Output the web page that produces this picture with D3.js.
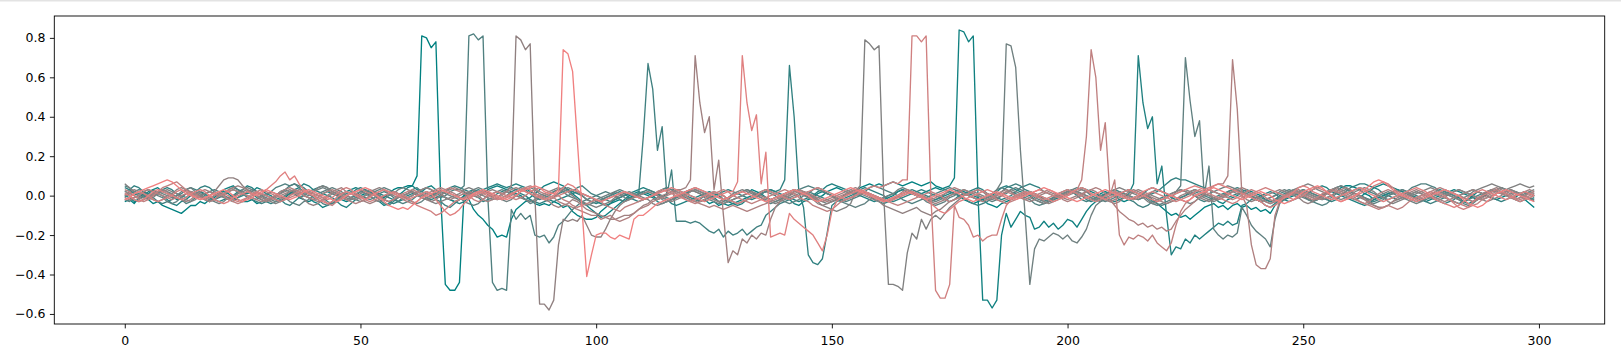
<!DOCTYPE html>
<html>
<head>
<meta charset="utf-8">
<script src="https://cdn.jsdelivr.net/npm/d3@7"></script>
<style>
html,body{margin:0;padding:0;background:#fff;}
svg{display:block;}
text{font-family:"DejaVu Sans",sans-serif;}
</style>
</head>
<body>
<svg id="chart" width="1621" height="360"></svg>
<script>
// x tick labels and y tick labels
const xTicks = [0, 50, 100, 150, 200, 250, 300];
const yTicks = [-0.6, -0.4, -0.2, 0, 0.2, 0.4, 0.6, 0.8];

// series values, index 0..299
const s00 = [
-.03,-.02,-.04,-.01,.01,-.02,-.04,-.03,-.05,-.06,
-.07,-.08,-.09,-.07,-.05,-.05,-.03,-.04,-.02,0,
.01,.02,.01,-.01,-.02,-.03,-.03,-.02,-.04,-.03,
-.02,-.01,0,.02,.03,.02,.01,-.01,-.02,-.03,
-.02,-.01,.01,.02,.01,0,-.02,-.03,-.02,-.01,
0,.01,.02,.01,0,-.01,.01,.03,.04,.04,
.05,.05,.1,.81,.8,.75,.78,0,-.45,-.48,
-.48,-.44,.02,-.02,-.07,-.1,-.12,-.15,-.17,-.21,
-.2,-.21,-.12,-.07,-.05,-.03,-.02,-.04,-.05,-.04,
-.05,-.03,-.04,-.06,-.05,-.08,-.1,-.11,-.12,-.12,
-.11,-.08,-.06,-.04,-.03,-.02,-.03,-.01,0,.01,
.02,.01,0,-.02,-.01,.01,.02,.03,.02,.01,
0,-.01,-.03,-.02,-.04,-.03,-.05,-.04,-.03,-.02,
-.01,0,.01,.03,.02,.01,-.01,-.02,-.01,0,
.01,.02,.03,.02,.01,-.01,-.02,-.01,0,.02,
.03,.04,.03,.02,.01,.02,.04,.05,.06,.05,
.06,.05,.06,.07,.06,.05,.06,.07,.06,.05,
.06,.07,.05,.04,.03,.02,.01,0,-.02,-.03,
-.04,-.03,-.02,-.04,-.05,-.06,-.04,-.03,-.02,-.01,
0,.01,.02,.01,0,-.02,-.03,-.02,-.01,0,
.01,.02,.01,0,-.01,-.02,-.01,.01,.02,.01,
0,-.02,-.03,-.02,-.01,0,.01,0,-.02,-.04,
-.06,-.08,-.1,-.09,-.11,-.1,-.12,-.1,-.08,-.06,
-.05,-.04,-.06,-.05,-.07,-.05,-.04,-.06,-.05,-.07,
-.06,-.08,-.07,-.09,-.05,-.03,-.02,-.01,0,.01,
.02,.01,0,-.01,-.02,-.01,0,.02,.04,.05,
.05,.04,.03,.01,0,-.02,-.01,0,.01,.02,
.01,0,-.01,-.02,-.03,-.02,-.01,0,.01,0,
-.01,-.02,-.03,-.04,-.03,-.02,0,.02,.01,0,
-.01,-.02,-.01,0,.01,.02,.01,-.02,-.04,-.06
];
const s01 = [
.02,.03,.01,0,-.01,.01,.03,.04,.02,.01,
0,-.02,-.01,.01,.02,.01,0,-.02,-.03,-.01,
.01,.03,.04,.05,.03,.02,.01,.02,.04,.03,
.01,0,-.02,-.03,-.01,.01,.02,.01,0,-.01,
-.03,-.04,-.06,-.05,-.03,-.01,.01,.02,.03,.04,
.03,.01,0,-.02,-.03,-.05,-.04,-.02,0,.02,
.04,.05,.03,.02,.04,.05,.03,.01,-.01,-.02,
-.03,-.02,0,.02,.03,.02,.01,.03,.04,.05,
.04,.03,.02,.01,0,-.02,-.01,.01,.03,.05,
.06,.07,.06,.05,.03,.01,-.01,-.03,-.05,-.07,
-.09,-.11,-.1,-.08,-.06,-.04,-.02,0,.01,.02,
.01,0,-.01,-.03,-.04,-.03,-.02,-.01,0,.01,
.02,.03,.02,.01,0,-.01,-.03,-.04,-.05,-.04,
-.03,-.02,-.01,0,.01,.02,.03,.02,.01,0,
-.01,-.02,-.04,-.05,-.03,-.02,-.01,.01,.02,.01,
0,-.02,-.03,-.02,-.01,0,.01,.02,.01,0,
-.01,-.02,-.01,0,.02,.03,.02,.01,0,.01,
.02,.03,.04,.03,.04,.05,.09,.84,.83,.78,
.81,0,-.53,-.53,-.57,-.53,-.2,-.09,-.16,-.12,
-.08,-.1,-.11,-.17,-.16,-.13,-.16,-.14,-.17,-.15,
-.12,-.13,-.16,-.12,-.08,-.05,-.03,-.02,0,.01,
.02,.01,0,-.01,-.02,-.01,.01,.03,.04,.03,
.02,.01,-.01,-.02,-.01,0,.02,.03,.02,.01,
0,-.01,-.03,-.04,-.02,-.01,0,.02,.03,.02,
.01,0,-.02,-.03,-.02,-.01,0,.01,.02,.01,
0,-.02,-.03,-.02,0,.02,.03,.02,.01,0,
-.01,-.02,-.01,.01,.02,.04,.05,.06,.05,.04,
.03,.02,.01,0,-.01,-.02,-.03,-.02,-.01,0,
.01,.02,.03,.02,.01,0,-.01,-.02,-.01,.01,
.02,.03,.02,.01,0,-.01,.01,.02,.01,0
];
const s02 = [
0,-.01,-.03,-.02,0,.02,.03,.01,0,-.02,
-.04,-.05,-.03,-.02,0,.01,.02,.01,-.01,-.02,
-.03,-.02,-.01,0,.02,.03,.05,.04,.02,.01,
0,-.01,-.02,-.01,0,.01,.03,.04,.06,.05,
.03,.02,.01,0,-.01,-.03,-.05,-.06,-.04,-.02,
-.01,0,.01,.02,.01,0,-.01,-.02,-.03,-.02,
-.01,0,.02,.03,.04,.03,.01,0,-.01,-.02,
-.03,-.04,-.03,-.01,.01,.02,.03,.04,.05,.06,
.05,.04,.05,.06,.05,.04,.02,.01,0,-.01,
-.02,-.03,-.02,-.01,0,.01,.02,.01,0,-.01,
-.03,-.04,-.05,-.04,-.02,-.01,0,.01,.02,.03,
.04,.03,.02,.01,-.01,-.02,-.04,-.05,-.04,-.03,
-.02,-.01,0,.01,.02,.01,0,-.02,-.03,-.04,
-.05,-.04,-.02,-.01,0,.01,.02,.03,.02,.01,
0,-.01,-.02,-.03,-.02,-.01,0,.02,.03,.05,
.06,.05,.04,.03,.02,.01,0,-.01,-.02,-.03,
-.02,-.01,0,.01,.02,.03,.02,.01,0,-.01,
-.02,-.03,-.02,-.01,0,.01,.02,.03,.02,.01,
0,-.01,-.02,-.01,0,.02,.04,.05,.04,.03,
.02,.01,0,-.02,-.03,-.04,-.03,-.02,-.01,0,
.01,.02,.03,.04,.03,.02,.01,0,-.01,-.02,
-.03,-.02,-.01,.01,.06,.71,.47,.34,.4,.06,
.15,-.1,-.3,-.26,-.27,-.22,-.24,-.2,-.22,-.2,
-.18,-.16,-.14,-.15,-.13,-.15,-.14,-.05,-.04,-.02,
-.01,0,.01,.02,.01,-.01,-.02,-.03,-.02,-.01,
0,.01,.03,.04,.05,.04,.02,.01,0,-.01,
-.02,-.03,-.04,-.05,-.04,-.02,-.01,0,.01,.02,
.03,.02,.01,0,-.01,-.02,-.01,0,.02,.03,
.02,.01,0,-.01,-.03,-.04,-.03,-.01,0,.01,
.02,.03,.04,.03,.02,.01,0,-.01,-.02,-.01
];
const s03 = [
.04,.03,.05,.04,.02,.01,0,.01,.03,.04,
.03,.01,0,-.01,.01,.02,.04,.05,.04,.02,
.01,0,-.02,-.03,-.01,0,.02,.01,-.01,-.02,
-.03,-.04,-.03,-.02,-.04,-.05,-.03,-.01,0,.02,
.03,.04,.05,.04,.02,.01,-.01,-.02,-.01,0,
.02,.03,.02,.01,0,-.02,-.03,-.04,-.03,-.01,
0,.01,.02,.01,-.01,-.02,-.01,0,.02,.04,
.05,.04,.03,.02,0,-.01,-.03,-.02,-.01,.01,
.02,.03,.04,.03,.01,0,-.02,-.03,-.04,-.03,
-.02,-.01,.01,.02,.03,.02,.01,0,-.02,-.03,
-.04,-.03,-.01,0,.01,.02,.01,-.01,-.02,-.03,
-.02,-.01,0,.02,.03,.04,.03,.02,.01,0,
-.01,-.02,-.03,-.02,-.01,0,.01,.02,.03,.02,
.01,0,-.01,-.02,-.01,.01,.02,.03,.02,.03,
.08,.66,.4,.02,-.06,-.3,-.34,-.35,-.32,-.19,
-.05,-.03,-.02,-.01,0,.01,.03,.04,.03,.02,
.01,0,-.02,-.03,-.02,-.01,0,.01,.02,.03,
.02,.01,0,-.01,-.02,-.03,-.02,0,.01,.02,
.03,.04,.03,.01,0,-.01,-.02,-.01,0,.02,
.04,.05,.06,.05,.04,.02,.01,0,-.01,0,
.01,.02,.01,0,-.02,-.03,-.02,-.01,.01,.02,
.03,.02,.01,0,-.01,-.02,-.01,0,.01,.02,
.04,.06,.08,.09,.08,.08,.07,.06,.05,.04,
.03,.02,.01,0,-.01,0,.01,.02,.01,0,
-.02,-.03,-.05,-.06,-.04,-.02,-.01,0,.01,.02,
.03,.02,.01,0,-.01,-.02,-.03,-.02,0,.02,
.04,.05,.06,.06,.05,.04,.03,.01,0,-.01,
-.02,-.01,0,.01,.02,.01,0,-.01,-.02,-.03,
-.04,-.03,-.02,0,.01,.02,.03,.02,.01,0,
-.01,-.02,-.03,-.02,-.01,0,.01,.02,.01,0
];
const s04 = [
-.01,.01,.02,.03,.02,0,-.01,-.03,-.04,-.03,
-.02,0,.01,.03,.04,.03,.02,0,-.01,-.02,
-.01,0,.02,.03,.02,.01,-.01,-.02,-.03,-.04,
-.03,-.02,0,.01,.03,.05,.06,.05,.04,.02,
.01,0,-.01,-.03,-.04,-.03,-.01,0,.01,.03,
.04,.03,.01,0,-.02,-.04,-.05,-.03,-.01,0,
.01,.03,.04,.02,.01,0,-.02,-.03,-.05,-.06,
-.04,-.02,-.01,0,.02,.03,.02,.01,-.01,-.02,
-.01,0,.02,.03,.04,.03,.01,-.01,-.02,-.01,
0,.02,.03,.04,.03,.02,.04,.05,.03,.01,
0,-.01,-.02,-.03,-.02,-.01,0,.01,0,0,
.3,.67,.54,.23,.35,0,.13,-.13,-.13,-.13,
-.14,-.13,-.14,-.16,-.18,-.19,-.17,-.21,-.18,-.2,
-.19,-.17,-.2,-.18,-.16,-.15,-.1,-.08,-.06,-.04,
-.03,-.02,-.01,0,.01,.02,.01,0,-.01,-.02,
-.03,-.02,-.01,.01,.02,.03,.02,.01,0,-.02,
-.03,-.04,-.03,-.02,0,.01,.02,.03,.02,.01,
0,-.01,-.02,-.01,.01,.02,.01,0,-.01,-.03,
-.04,-.05,-.04,-.03,-.01,0,.02,.04,.05,.06,
.05,.03,.02,.01,0,-.01,-.02,-.01,.01,.02,
.03,.02,0,-.02,-.03,-.02,-.01,0,.01,.02,
.01,0,-.01,-.02,-.03,-.05,-.06,-.05,-.03,-.02,
-.01,0,.01,.02,.03,.02,.01,0,-.02,-.03,
-.02,-.01,0,.01,.02,.03,.04,.03,.02,.01,
0,-.01,-.02,-.03,-.02,0,.01,.02,.03,.02,
.01,0,-.01,-.02,-.01,.01,.03,.04,.05,.04,
.02,.01,0,-.01,-.02,-.03,-.02,-.01,0,.01,
.02,.03,.02,.01,0,-.01,-.03,-.04,-.03,-.02,
-.01,.01,.02,.03,.02,.01,0,-.01,-.02,-.01,
0,.01,.02,.01,0,-.02,-.03,-.02,-.01,-.03
];
const s05 = [
.05,.04,.02,.01,0,-.01,0,.02,.03,.02,
.01,-.01,-.02,-.04,-.03,-.01,0,.01,.02,.03,
.02,0,-.01,-.02,-.01,.01,.02,.03,.02,.01,
0,.02,.04,.05,.06,.05,.06,.04,.02,.01,
-.01,-.02,-.04,-.05,-.04,-.02,0,.01,.02,.01,
0,-.01,-.02,-.01,.01,.02,.01,-.01,-.03,-.04,
-.03,-.02,0,.01,.02,.01,0,-.01,0,.02,
.03,.03,.05,.81,.82,.79,.81,0,-.44,-.48,
-.47,-.48,-.07,-.12,-.09,-.12,-.1,-.2,-.21,-.2,
-.24,-.21,-.15,-.13,-.1,-.07,-.05,-.03,-.02,-.01,
0,.01,.02,.01,0,-.02,-.03,-.02,0,.01,
.02,.03,.02,.01,0,-.01,-.02,-.01,0,.01,
.03,.04,.03,.02,.01,0,-.01,-.02,-.01,0,
.01,.02,.03,.02,0,-.01,-.03,-.04,-.03,-.02,
-.01,0,.02,.03,.04,.05,.04,.03,.02,.01,
0,-.01,-.02,-.03,-.02,-.01,0,.02,.04,.05,
.04,.03,.02,.01,0,-.02,-.03,-.04,-.03,-.02,
-.01,0,.01,.02,.03,.04,.03,.02,.01,0,
-.01,-.02,-.01,0,.01,.03,.04,.03,.02,.01,
0,-.01,-.02,-.04,-.05,-.04,-.03,-.01,0,.01,
.02,.03,.02,.01,0,-.01,-.02,-.03,-.02,-.01,
0,.01,.02,.03,.02,.01,0,-.01,-.03,-.04,
-.05,-.04,-.03,-.02,-.01,0,.01,.02,.01,0,
-.01,-.02,-.01,0,.02,.03,.02,.01,0,-.01,
-.02,-.03,-.02,-.01,0,.01,.02,.03,.02,.01,
0,-.01,-.03,-.04,-.05,-.04,-.02,-.01,0,.01,
.02,.03,.04,.03,.02,.01,0,-.01,-.02,-.01,
0,.01,.02,.04,.05,.06,.06,.05,.04,.02,
.01,0,-.01,-.02,-.03,-.02,-.01,0,.01,.02,
.03,.02,.01,0,-.01,-.02,-.01,0,.02,.01
];
const s06 = [
-.02,-.03,-.01,0,.02,.03,.02,0,-.01,-.03,
-.04,-.03,-.01,.01,.02,.01,0,-.02,-.03,-.02,
0,.01,.03,.04,.03,.01,0,-.01,-.02,0,
.01,.02,.01,0,-.01,-.03,-.04,-.05,-.03,-.02,
0,.01,.02,.03,.04,.03,.02,0,-.01,-.02,
-.03,-.02,0,.02,.03,.04,.03,.02,.01,0,
-.02,-.03,-.04,-.03,-.01,0,.02,.03,.02,.01,
0,-.01,-.03,-.04,-.05,-.04,-.02,0,.01,.02,
.03,.02,.01,0,-.01,-.02,-.04,-.03,-.01,0,
.01,.02,.03,.02,0,-.01,-.02,-.04,-.05,-.04,
-.03,-.02,-.01,0,.02,.03,.02,.01,0,-.01,
-.02,-.01,0,.01,.03,.04,.03,.01,0,-.01,
-.02,-.03,-.02,0,.01,.02,.01,0,-.02,-.03,
-.04,-.03,-.02,-.01,0,.01,.02,.01,0,-.02,
-.03,-.04,-.03,-.02,0,.01,.03,.04,.03,.01,
0,-.01,-.03,-.04,-.05,-.06,-.05,-.04,-.02,-.01,
-.02,-.03,-.02,-.01,0,.01,.02,.01,0,-.01,
-.03,-.04,-.05,-.04,-.03,-.01,0,.02,.03,.02,
.01,0,-.01,-.02,-.03,-.02,0,.01,.03,.04,
.03,.02,.01,-.01,-.02,-.03,-.02,-.01,0,.01,
.02,.03,.04,.03,.02,0,-.01,-.02,-.03,-.02,
-.01,0,.02,.03,.02,.01,0,-.02,-.04,-.05,
-.04,-.03,-.02,.02,.05,.7,.48,.3,.38,0,
.15,-.17,-.2,-.22,-.2,-.21,-.19,-.06,-.1,-.15,
-.18,-.2,-.22,-.26,-.12,-.04,-.02,0,.01,.02,
.03,.02,.01,0,-.01,-.02,-.01,.01,.02,.03,
.02,.01,0,-.01,-.03,-.04,-.03,-.02,0,.01,
.02,.03,.02,0,-.02,-.03,-.02,-.01,0,.01,
.02,.01,0,-.02,-.04,-.05,-.04,-.02,0,.02,
.03,.02,.01,.02,.03,.02,.01,0,-.01,-.02
];
const s07 = [
.01,0,-.02,-.03,-.02,0,.01,.02,.01,0,
-.01,0,.02,.03,.04,.02,.01,-.01,-.02,-.03,
-.04,-.03,-.01,0,.01,.03,.04,.03,.02,0,
-.01,-.02,-.03,-.02,0,.02,.03,.02,.01,0,
.02,.03,.04,.03,.01,0,-.01,-.02,-.01,.01,
.02,.01,0,-.02,-.03,-.02,0,.01,.03,.04,
.03,.02,0,-.01,-.02,-.01,.01,.02,.01,0,
-.01,-.02,-.01,.01,.03,.04,.03,.02,0,-.01,
-.02,-.03,-.02,0,.02,.03,.04,.03,.01,0,
-.01,0,.01,.03,.04,.03,.02,0,-.02,-.03,
-.02,-.01,0,.01,.02,.01,-.01,-.02,-.01,0,
.01,.02,.01,0,-.02,-.03,-.02,-.01,.01,.02,
.03,.02,.01,-.01,-.02,-.03,-.04,-.03,-.02,0,
.01,.02,.03,.02,.01,0,-.01,-.02,-.03,-.02,
0,.01,.02,.03,.02,.01,0,-.02,-.03,-.04,
-.03,-.02,-.01,0,.02,.03,.02,.01,0,-.01,
-.02,-.01,0,.01,.03,.04,.03,.02,.01,0,
-.01,-.02,-.03,-.02,-.01,0,.01,.02,.01,0,
-.01,-.02,-.01,0,.01,.03,.07,.77,.76,.65,
.23,-.1,-.45,-.27,-.22,-.23,-.21,-.19,-.2,-.22,
-.2,-.23,-.24,-.21,-.17,-.1,-.05,-.03,-.01,0,
.01,.02,.01,0,-.01,-.02,-.01,0,.02,.03,
.02,.01,0,-.01,-.02,-.03,-.04,-.03,-.01,0,
.01,.02,.03,.04,.05,.04,.03,.01,0,-.01,
-.02,-.03,-.02,-.01,0,.02,.03,.02,.01,0,
-.01,-.02,-.03,-.02,0,.01,.02,.04,.05,.04,
.03,.01,0,-.01,-.02,-.01,0,.01,.02,.01,
0,-.01,-.02,-.03,-.04,-.03,-.01,0,.01,.02,
.03,.02,.01,0,-.01,-.02,-.03,-.02,0,.01,
.02,.03,.04,.03,.02,.01,0,.01,.02,.03
];
const s08 = [
.06,.04,.02,0,-.01,-.02,-.01,.01,.02,.03,
.02,.01,-.01,-.02,-.03,-.02,0,.01,.02,.01,
0,-.01,-.02,-.01,.01,.02,.03,.02,.01,0,
-.02,-.03,-.04,-.03,-.02,0,.02,.03,.02,.01,
.02,.04,.05,.04,.02,.01,0,-.01,-.02,-.01,
.01,.02,.03,.02,0,-.02,-.03,-.02,-.01,0,
.01,.02,.01,0,-.01,-.03,-.04,-.03,-.02,-.01,
0,.01,.03,.04,.03,.01,0,-.01,-.02,-.01,
.01,.02,.01,0,-.01,-.02,-.03,-.02,0,.01,
.02,.03,.04,.03,.02,0,-.02,-.03,-.04,-.05,
-.06,-.05,-.04,-.03,-.01,0,.01,.02,.01,0,
-.01,-.02,-.04,-.05,-.04,-.03,-.02,0,.01,.02,
.03,.02,.01,0,-.01,-.02,-.03,-.02,-.01,.01,
.02,.03,.02,.01,0,-.01,-.02,-.03,-.04,-.03,
-.02,-.01,0,.01,.02,.01,-.01,-.03,-.05,-.06,
-.07,-.08,-.07,-.06,-.04,.02,.05,.79,.77,.74,
.76,0,-.45,-.45,-.46,-.48,-.29,-.19,-.22,-.12,
-.17,-.12,-.1,-.12,-.09,-.06,-.04,-.02,0,.01,
.02,.01,0,-.01,-.02,-.01,0,.02,.03,.02,
.01,0,-.01,-.02,-.03,-.04,-.03,-.02,0,.01,
.02,.03,.02,.01,0,-.01,-.02,-.01,0,.02,
.03,.04,.03,.02,.01,0,-.01,-.03,-.04,-.03,
-.02,-.01,0,.01,.02,.03,.02,.01,0,-.01,
-.02,-.03,-.02,-.01,.01,.02,.03,.02,.01,0,
-.01,-.02,-.03,-.04,-.03,-.01,0,.02,.03,.04,
.05,.06,.05,.03,.02,.01,0,-.01,-.02,-.01,
0,.02,.03,.04,.03,.02,0,-.01,-.03,-.04,
-.03,-.02,-.01,0,.01,.02,.03,.04,.03,.02,
.01,0,-.01,-.02,-.01,0,.02,.03,.04,.05,
.06,.05,.04,.03,.04,.05,.06,.05,.04,.05
];
const s09 = [
0,.02,.03,.02,.01,-.01,-.02,-.03,-.02,0,
.01,.03,.04,.03,.02,.01,0,-.01,0,.02,
.05,.08,.09,.09,.08,.05,.03,.01,0,-.01,
-.02,-.01,0,.01,.02,.03,.02,0,-.02,-.04,
-.05,-.04,-.02,-.01,.01,.02,.01,0,-.01,-.02,
-.01,0,.02,.03,.04,.03,.01,0,-.01,0,
.01,.02,.01,-.01,-.02,-.03,-.02,0,.02,.03,
.04,.03,.02,.01,0,-.01,.01,.02,.03,.02,
.01,.02,.05,.81,.79,.74,.77,0,-.55,-.55,
-.58,-.53,-.25,-.12,-.13,-.12,-.13,-.1,-.15,-.2,
-.21,-.21,-.17,-.12,-.08,-.05,-.03,-.02,-.01,0,
.01,.02,.01,0,-.01,-.02,-.03,-.02,-.01,0,
.02,.03,.02,.01,0,-.02,-.03,-.04,-.03,-.02,
-.01,0,.01,.02,.01,0,-.01,-.02,-.01,0,
.01,.02,.03,.02,0,-.01,-.02,-.04,-.05,-.04,
-.03,-.02,-.01,0,.01,.02,.01,0,-.01,-.02,
-.03,-.05,-.06,-.07,-.08,-.09,-.08,-.07,-.06,-.08,
-.09,-.1,-.08,-.07,-.05,-.03,-.02,-.01,0,.01,
.02,.03,.02,0,-.01,-.02,-.03,-.02,-.01,0,
.01,.02,.01,0,-.01,-.03,-.04,-.03,-.02,-.01,
0,.01,.02,.03,.02,.01,0,-.01,-.02,-.03,
-.04,-.03,-.01,0,.02,.03,.02,.01,0,-.01,
-.02,-.01,.01,.02,.03,.02,.01,0,-.01,-.02,
-.03,-.02,-.01,0,.01,.02,.01,0,-.02,-.03,
-.02,-.01,0,.01,.02,.03,.02,.01,0,-.01,
-.03,-.04,-.03,-.01,0,.02,.03,.04,.03,.02,
.01,0,-.01,-.02,-.03,-.05,-.06,-.06,-.05,-.03,
-.02,-.01,0,.01,.02,.01,0,-.01,-.02,-.01,
0,.01,.02,.03,.02,.01,0,-.01,-.02,-.03,
-.02,-.01,0,.02,.03,.02,.01,0,-.01,0
];
const s10 = [
.02,.01,0,-.01,-.02,-.01,.01,.02,.03,.02,
0,-.01,-.02,-.03,-.02,0,.02,.03,.02,.01,
0,.01,.03,.04,.05,.04,.03,.01,0,-.02,
-.03,-.02,-.01,0,.01,.02,.03,.02,0,-.01,
-.02,-.03,-.02,0,.02,.03,.04,.02,.01,0,
-.02,-.03,-.04,-.03,-.02,0,.01,.02,.01,0,
-.01,0,.02,.03,.04,.03,.02,.01,-.01,-.02,
-.01,0,.01,.02,.01,0,-.02,-.03,-.02,-.01,
0,.02,.03,.04,.03,.02,.01,0,-.01,-.02,
-.03,-.05,-.06,-.05,-.04,-.02,-.03,-.05,-.07,-.08,
-.09,-.1,-.11,-.12,-.12,-.11,-.1,-.1,-.09,-.07,
-.05,-.04,-.02,-.01,0,.01,.02,.03,.03,.04,
.08,.71,.47,.32,.4,.03,.18,-.1,-.34,-.28,
-.3,-.22,-.24,-.2,-.22,-.19,-.2,-.12,-.06,-.03,
-.01,0,.01,.02,.01,0,-.01,-.02,-.03,-.02,
-.01,0,.01,.02,.03,.04,.03,.02,.01,0,
-.01,-.02,-.03,-.02,-.01,0,.01,.02,.01,0,
-.01,-.03,-.04,-.03,-.02,0,.01,.02,.03,.02,
.01,0,-.01,-.02,-.01,.01,.02,.03,.02,0,
-.01,-.02,-.03,-.02,0,.01,.02,.01,0,-.01,
-.02,-.01,0,.01,.02,.03,.02,0,-.02,-.03,
-.02,-.01,0,.02,.03,.02,.01,0,-.01,-.02,
-.03,-.04,-.03,-.02,0,.01,.02,.03,.02,.01,
0,-.01,-.02,-.01,0,.02,.03,.04,.03,.01,
0,-.02,-.03,-.04,-.03,-.02,0,.01,.02,.03,
.02,.01,0,-.01,-.02,-.01,0,.02,.03,.04,
.03,.01,0,-.02,-.04,-.05,-.06,-.06,-.05,-.03,
-.01,0,.01,.02,.03,.02,.01,0,-.01,-.02,
-.03,-.02,-.01,0,.01,.02,.03,.02,.01,.02,
.03,.04,.03,.02,.01,0,.01,.02,.03,.02
];
const s11 = [
-.01,-.02,-.01,0,.02,.03,.02,.01,0,-.01,
-.02,-.01,0,.01,.02,.01,-.01,-.02,-.03,-.02,
0,.01,.02,.03,.02,.01,0,-.01,-.02,-.03,
-.02,-.01,0,.02,.03,.04,.03,.02,0,-.01,
-.02,-.01,.01,.02,.03,.02,0,-.02,-.03,-.04,
-.03,-.02,0,.01,.02,.03,.02,.01,0,-.02,
-.03,-.04,-.03,-.01,.01,.02,.03,.04,.03,.02,
.01,-.01,-.02,-.01,0,.01,.02,.01,0,-.01,
-.02,-.01,0,.02,.03,.04,.05,.04,.02,.01,
0,-.01,-.03,-.04,-.05,-.06,-.07,-.08,-.09,-.1,
-.1,-.12,-.11,-.1,-.12,-.13,-.12,-.11,-.09,-.07,
-.06,-.05,-.03,-.02,-.01,0,.01,.02,.01,0,
-.02,-.03,-.04,-.05,-.06,-.05,-.06,-.07,-.06,-.05,
-.06,-.07,-.08,-.07,-.06,-.05,-.04,-.03,-.02,-.01,
0,.01,.02,.03,.02,.01,0,-.01,-.02,-.03,
-.02,-.01,0,.01,.02,.03,.02,.01,0,-.01,
-.02,-.03,-.02,-.01,0,.02,.03,.02,.01,0,
-.01,-.02,-.01,0,.01,.03,.04,.03,.01,0,
-.01,-.02,-.03,-.02,-.01,0,.01,.02,.01,0,
-.01,-.02,-.01,0,.01,.02,.03,.02,0,-.02,
-.03,-.02,-.01,0,.02,.03,.04,.03,.01,-.02,
-.05,-.08,-.1,-.12,-.13,-.15,-.14,-.16,-.15,-.17,
-.16,-.18,-.17,-.13,-.1,-.07,-.05,-.03,-.01,.01,
.03,.05,.06,.06,.1,.69,.44,0,-.05,-.25,
-.35,-.37,-.37,-.32,-.1,-.03,-.01,0,.01,.02,
.01,0,-.01,-.02,-.01,.01,.02,.03,.02,.01,
0,-.01,-.03,-.04,-.03,-.01,.01,.02,.03,.02,
.01,0,-.01,-.02,-.01,0,.01,.02,.03,.04,
.03,.02,.01,0,-.01,-.02,-.03,-.02,-.01,0,
.01,.02,.01,0,-.01,-.02,-.01,0,.01,.02
];
const s12 = [
.03,.02,0,-.02,-.03,-.02,0,.02,.04,.05,
.06,.07,.05,.03,.01,0,-.01,-.02,-.01,0,
.01,0,-.02,-.03,-.04,-.03,-.01,0,.02,.03,
.02,.01,0,-.01,-.02,-.01,0,.01,.02,.01,
0,-.01,-.02,-.04,-.05,-.03,-.01,0,.01,.02,
.03,.02,.01,0,-.01,-.02,-.03,-.02,0,.01,
.02,.03,.02,.01,0,-.01,0,.02,.03,.04,
.03,.02,.01,0,-.02,-.03,-.02,0,.01,.02,
.01,0,-.01,-.02,-.01,0,.02,.03,.04,.03,
.02,.01,0,-.02,-.03,-.05,-.06,-.05,-.04,-.03,
-.02,-.03,-.05,-.06,-.07,-.08,-.06,-.05,-.04,-.03,
-.02,-.01,0,.01,.02,.03,.02,.01,0,-.02,
-.03,-.04,-.03,-.02,0,.01,.02,.03,.02,0,
-.01,-.02,-.03,-.04,-.03,-.02,-.01,0,.01,.02,
.03,.02,.01,-.01,-.02,-.03,-.05,-.06,-.07,-.08,
-.07,-.05,-.03,-.02,-.01,0,.01,.02,.01,0,
-.01,-.02,-.03,-.04,-.05,-.04,-.03,-.02,-.01,0,
.01,.02,.01,0,-.02,-.03,-.02,-.01,0,.01,
.02,.03,.02,.01,0,-.02,-.03,-.04,-.03,-.02,
-.01,0,.01,.02,.03,.02,.01,0,-.01,0,
.01,.02,.03,.08,.3,.74,.6,.23,.37,0,
.08,-.2,-.25,-.21,-.22,-.2,-.21,-.23,-.2,-.24,
-.26,-.28,-.24,-.15,-.08,-.04,-.02,0,.01,.02,
.03,.02,.01,0,-.01,-.02,-.01,0,.02,.03,
.02,.01,-.01,-.02,-.03,-.02,0,.01,.02,.01,
0,-.01,-.02,-.01,.01,.02,.03,.02,.01,0,
-.01,-.02,-.03,-.04,-.05,-.06,-.07,-.06,-.05,-.06,
-.07,-.06,-.04,-.02,-.01,0,.01,.02,.01,0,
-.01,-.02,-.03,-.04,-.05,-.06,-.05,-.04,-.02,-.01,
0,.01,.02,.01,0,-.01,-.02,-.01,0,.01
];
const s13 = [
-.02,-.01,.01,.02,.01,0,-.02,-.03,-.02,-.01,
0,.02,.03,.02,.01,-.01,-.02,-.01,0,.01,
.02,.01,0,-.02,-.03,-.02,-.01,.01,.02,.01,
0,-.01,-.02,-.03,-.02,0,.01,.02,.03,.02,
.01,0,-.01,-.02,-.01,.01,.03,.04,.03,.01,
0,-.02,-.03,-.02,-.01,0,.01,.02,.01,0,
-.01,-.03,-.05,-.06,-.07,-.08,-.1,-.09,-.07,-.05,
-.03,-.02,-.01,0,.01,.02,.01,0,-.01,-.02,
-.01,0,.01,.02,.03,.04,.03,.01,0,-.01,
-.02,-.01,0,.01,.02,.03,.02,.01,0,-.01,
-.02,-.03,-.02,-.01,0,.01,.02,.01,0,-.01,
-.02,-.01,0,.02,.03,.02,.01,0,-.01,-.02,
-.03,-.02,-.01,0,.01,.02,.01,0,-.02,-.03,
-.04,-.03,-.02,-.01,0,.02,.03,.02,.01,0,
-.01,-.02,-.01,0,.01,.02,.03,.04,.03,.02,
.01,0,-.01,-.02,-.01,0,.02,.03,.04,.05,
.04,.05,.06,.07,.06,.08,.08,.81,.81,.78,
.81,0,-.48,-.52,-.52,-.45,-.05,-.11,-.12,-.15,
-.21,-.2,-.23,-.21,-.2,-.2,-.12,-.05,-.02,0,
.01,.02,.01,0,-.01,-.02,-.01,0,.01,.02,
.03,.02,.01,0,-.01,-.02,-.03,-.02,0,.01,
.02,.01,0,-.01,-.02,-.01,0,.01,.02,.01,
0,-.01,-.02,-.03,-.02,-.01,0,.02,.03,.02,
.01,0,-.01,-.02,-.03,-.04,-.03,-.01,0,.01,
.02,.03,.04,.03,.02,.01,0,-.01,-.02,-.01,
0,.02,.03,.04,.03,.02,0,-.02,-.03,-.02,
-.01,0,.01,.02,.03,.05,.06,.07,.06,.04,
.02,.01,0,-.01,-.02,-.01,0,.01,.02,.01,
0,-.02,-.04,-.06,-.07,-.06,-.03,-.01,0,.01,
.02,.03,.02,.01,0,-.02,-.03,-.02,-.01,0
];
const s14 = [
.01,0,-.02,-.03,-.02,0,.02,.03,.02,.01,
0,-.01,-.02,-.01,.01,.02,.03,.02,0,-.02,
-.03,-.04,-.03,-.01,0,.01,.02,.01,0,.01,
.03,.05,.07,.1,.12,.08,.1,.06,.03,.01,
0,-.02,-.03,-.04,-.03,-.01,.01,.02,.01,0,
-.01,-.02,-.01,.01,.02,.03,.02,.01,0,-.01,
-.02,-.01,0,.01,.02,.01,-.02,-.05,-.08,-.1,
-.09,-.07,-.04,-.02,0,.01,.02,.01,0,-.01,
-.02,-.01,.01,.02,.03,.02,.01,0,-.01,-.02,
-.01,0,.02,.04,.06,.05,.03,.01,0,-.01,
-.02,-.03,-.02,-.01,0,.01,.02,.01,0,-.01,
-.02,-.01,0,.01,.02,.03,.04,.03,.02,.01,
0,-.01,-.02,-.03,-.02,-.01,0,.01,.02,.02,
.07,.71,.47,.33,.41,.06,.22,-.21,-.2,-.19,
-.2,-.09,-.12,-.14,-.16,-.18,-.2,-.24,-.28,-.2,
-.08,-.03,-.01,0,.01,.02,.03,.02,.01,0,
-.01,-.02,-.03,-.02,-.01,0,.01,.02,.01,0,
-.02,-.04,-.06,-.08,-.09,-.07,-.05,-.03,-.02,-.01,
0,.01,.02,.03,.02,.01,0,-.01,-.02,-.01,
0,.01,.02,.01,0,-.01,-.02,-.03,-.02,-.01,
0,.02,.03,.04,.03,.01,0,-.01,-.02,-.01,
0,.01,.02,.03,.02,.01,0,-.01,-.02,-.03,
-.02,-.01,0,.01,.02,.03,.04,.05,.04,.03,
.04,.05,.06,.05,.04,.03,.02,.01,0,-.01,
-.02,-.03,-.05,-.06,-.05,-.03,-.01,0,.02,.04,
.05,.04,.02,.01,0,-.01,-.02,-.01,0,.01,
.02,.03,.04,.03,.01,0,-.02,-.03,-.02,-.01,
0,.01,.02,.03,.04,.03,.02,0,-.02,-.03,
-.04,-.05,-.06,-.05,-.03,-.01,.01,.02,.03,.02,
.01,0,-.01,-.02,-.01,0,.01,.02,.01,0
];
const s15 = [
-.02,-.01,.01,.02,.03,.04,.05,.06,.07,.08,
.07,.05,.03,.01,0,-.01,-.02,-.01,0,.01,
.02,.03,.02,0,-.02,-.03,-.02,-.01,.01,.02,
.03,.02,.01,0,-.01,-.02,-.01,0,.02,.03,
.02,.01,0,-.01,-.02,-.03,-.02,0,.01,.02,
.03,.04,.03,.01,-.01,-.03,-.05,-.06,-.07,-.06,
-.07,-.05,-.03,-.01,0,.01,.02,.03,.02,.01,
0,-.01,-.02,-.01,.01,.02,.03,.02,.01,0,
-.01,-.02,-.01,0,.02,.03,.04,.05,.04,.02,
.01,.01,.03,.74,.72,.63,.28,-.07,-.41,-.3,
-.2,-.19,-.19,-.21,-.22,-.2,-.21,-.22,-.12,-.1,
-.1,-.08,-.06,-.04,-.03,-.02,-.01,0,.01,.02,
.03,.04,.03,.02,.01,0,-.01,-.02,-.01,0,
.01,.02,.01,0,-.01,-.02,-.03,-.02,-.01,0,
.01,.02,.03,.02,.01,0,-.02,-.03,-.02,-.01,
0,.01,.02,.03,.04,.03,.02,.01,0,-.01,
-.02,-.03,-.02,-.01,0,.01,.02,.01,0,-.01,
-.02,-.01,0,.01,.02,.03,.02,.01,-.01,-.02,
-.03,-.02,-.01,0,.01,.02,.01,0,-.01,-.02,
-.01,0,.01,.02,.03,.04,.03,.02,.01,0,
-.01,-.02,-.03,-.02,-.01,0,.01,.02,.03,.02,
.01,0,-.01,-.02,-.01,0,.02,.03,.04,.03,
.02,.01,0,-.01,-.02,-.03,-.02,0,.01,.02,
.03,.04,.03,.02,.01,0,-.01,-.02,-.01,0,
.01,.02,.01,0,-.02,-.03,-.04,-.03,-.02,0,
.02,.03,.04,.05,.04,.02,0,-.02,-.03,-.02,
-.01,0,.02,.03,.05,.07,.08,.07,.05,.03,
.01,0,-.01,-.02,-.03,-.02,-.01,0,.01,.02,
.03,.02,.01,0,-.02,-.04,-.05,-.06,-.05,-.03,
-.01,.01,.02,.03,.02,.01,0,-.01,-.02,-.03
];

const seriesList = [s00, s01, s02, s03, s04, s05, s06, s07, s08, s09, s10, s11, s12, s13, s14, s15];

const W = 1621, H = 360;
const plot = {left: 54.3, right: 1604.7, top: 16, bottom: 324};

const svg = d3.select("#chart");

// thin light rule at the very top of the page
svg.append("rect").attr("x", 0).attr("y", 0).attr("width", W).attr("height", 1.5).attr("fill", "#e3e3e3");

const nPts = d3.max(seriesList, s => s.length);
const xMax = nPts - 1;
const x = d3.scaleLinear()
  .domain([-0.05 * xMax, xMax * 1.05])
  .range([plot.left, plot.right]);

const allVals = seriesList.flat();
const yMin = d3.min(allVals), yMax = d3.max(allVals);
const yPad = (yMax - yMin) * 0.05;
const y = d3.scaleLinear()
  .domain([yMin - yPad, yMax + yPad])
  .range([plot.bottom, plot.top]);

const color = d3.interpolateRgb("#008080", "#f08080");

const line = d3.line()
  .x((d, i) => x(i))
  .y(d => y(d));

const clipId = "plotclip";
svg.append("clipPath").attr("id", clipId)
  .append("rect")
  .attr("x", plot.left).attr("y", plot.top)
  .attr("width", plot.right - plot.left).attr("height", plot.bottom - plot.top);

const gLines = svg.append("g").attr("clip-path", `url(#${clipId})`);
gLines.selectAll("path")
  .data(seriesList)
  .join("path")
  .attr("d", d => line(d))
  .attr("fill", "none")
  .attr("stroke", (d, i) => color(i / (seriesList.length - 1)))
  .attr("stroke-width", 1.35)
  .attr("stroke-linejoin", "round")
  .attr("stroke-linecap", "butt");

// axes
const fmt = d3.format(".1f");
const yAxis = d3.axisLeft(y).tickValues(yTicks).tickSize(4.4).tickPadding(4.5)
  .tickFormat(d => fmt(d));
const xAxis = d3.axisBottom(x).tickValues(xTicks).tickSize(4.4).tickPadding(8)
  .tickFormat(d3.format("d"));

const gy = svg.append("g").attr("transform", `translate(${plot.left},0)`).call(yAxis);
const gx = svg.append("g").attr("transform", `translate(0,${plot.bottom})`).call(xAxis);

[gx, gy].forEach(g => {
  g.select(".domain").remove();
  g.selectAll(".tick line").attr("stroke", "#000").attr("stroke-width", 0.9);
  g.selectAll(".tick text").attr("fill", "#000")
    .style("font-family", "'DejaVu Sans', sans-serif").style("font-size", "12.5px");
});

// frame
svg.append("rect")
  .attr("x", plot.left).attr("y", plot.top)
  .attr("width", plot.right - plot.left).attr("height", plot.bottom - plot.top)
  .attr("fill", "none").attr("stroke", "#000").attr("stroke-width", 0.9);
</script>
</body>
</html>
